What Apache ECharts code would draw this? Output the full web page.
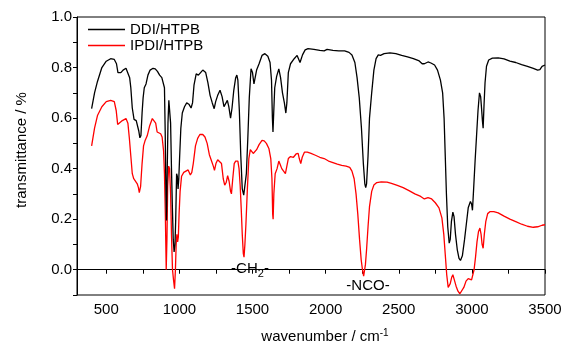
<!DOCTYPE html>
<html>
<head>
<meta charset="utf-8">
<script src="https://cdn.jsdelivr.net/npm/echarts@6/dist/echarts.min.js"></script>
<style>html,body{margin:0;padding:0;background:#fff}#c{width:571px;height:345px}</style>
</head>
<body>
<div id="c"></div>
<script>
var seriesNames = ['DDI/HTPB', 'IPDI/HTPB'];
var xTicks = [500, 750, 1000, 1250, 1500, 1750, 2000, 2250, 2500, 2750, 3000, 3250, 3500];
var xLabels = [500, 1000, 1500, 2000, 2500, 3000, 3500];
var yLabels = [0.0, 0.2, 0.4, 0.6, 0.8, 1.0];

var ddiData = [[400,0.637],[420,0.70],[440,0.745],[470,0.80],[500,0.825],[530,0.835],[555,0.832],[570,0.815],[580,0.78],[600,0.78],[615,0.79],[635,0.797],[648,0.795],[660,0.76],[668,0.72],[678,0.64],[690,0.595],[705,0.59],[715,0.585],[722,0.55],[730,0.522],[737,0.53],[745,0.62],[752,0.68],[760,0.72],[772,0.735],[785,0.77],[800,0.79],[820,0.797],[835,0.795],[850,0.785],[865,0.77],[880,0.76],[890,0.755],[898,0.72],[903,0.55],[908,0.30],[912,0.195],[917,0.40],[922,0.58],[928,0.67],[935,0.665],[940,0.58],[946,0.40],[952,0.25],[958,0.12],[964,0.07],[970,0.10],[975,0.20],[981,0.38],[986,0.37],[991,0.32],[996,0.36],[1002,0.45],[1010,0.56],[1020,0.62],[1035,0.645],[1050,0.66],[1065,0.655],[1080,0.64],[1090,0.66],[1100,0.73],[1115,0.775],[1130,0.77],[1145,0.78],[1160,0.79],[1180,0.78],[1195,0.74],[1210,0.69],[1225,0.66],[1238,0.637],[1248,0.665],[1262,0.69],[1278,0.71],[1292,0.685],[1305,0.645],[1315,0.64],[1328,0.67],[1338,0.645],[1350,0.60],[1360,0.64],[1372,0.71],[1385,0.76],[1393,0.77],[1400,0.75],[1410,0.63],[1420,0.45],[1430,0.32],[1440,0.295],[1450,0.29],[1458,0.38],[1468,0.52],[1478,0.68],[1490,0.795],[1500,0.78],[1510,0.735],[1518,0.735],[1528,0.79],[1545,0.815],[1565,0.848],[1585,0.855],[1605,0.845],[1620,0.82],[1630,0.75],[1636,0.60],[1640,0.545],[1645,0.62],[1652,0.72],[1665,0.765],[1680,0.795],[1692,0.76],[1705,0.70],[1718,0.66],[1728,0.62],[1735,0.66],[1745,0.78],[1760,0.815],[1785,0.835],[1805,0.848],[1818,0.845],[1825,0.82],[1832,0.815],[1842,0.85],[1860,0.87],[1880,0.875],[1920,0.872],[1960,0.868],[1990,0.866],[2010,0.872],[2050,0.868],[2090,0.866],[2130,0.866],[2160,0.86],[2180,0.85],[2200,0.82],[2215,0.76],[2230,0.68],[2245,0.56],[2258,0.42],[2268,0.34],[2274,0.325],[2280,0.34],[2290,0.45],[2300,0.60],[2315,0.70],[2330,0.79],[2345,0.835],[2360,0.85],[2375,0.848],[2400,0.855],[2440,0.858],[2480,0.855],[2520,0.848],[2560,0.842],[2600,0.835],[2640,0.826],[2660,0.815],[2675,0.815],[2700,0.822],[2720,0.818],[2745,0.81],[2765,0.79],[2785,0.75],[2800,0.70],[2810,0.60],[2818,0.45],[2826,0.30],[2835,0.17],[2845,0.105],[2852,0.12],[2860,0.19],[2870,0.228],[2878,0.21],[2888,0.14],[2900,0.08],[2912,0.045],[2922,0.037],[2935,0.055],[2950,0.12],[2962,0.18],[2975,0.245],[2990,0.27],[2998,0.26],[3004,0.235],[3012,0.32],[3022,0.43],[3032,0.53],[3042,0.63],[3052,0.70],[3060,0.685],[3066,0.64],[3072,0.59],[3077,0.56],[3083,0.65],[3090,0.74],[3100,0.805],[3115,0.83],[3140,0.837],[3180,0.838],[3220,0.834],[3260,0.825],[3300,0.82],[3340,0.812],[3380,0.805],[3420,0.797],[3450,0.79],[3465,0.792],[3480,0.805],[3500,0.81]];

var ipdiData = [[400,0.49],[420,0.56],[440,0.61],[470,0.645],[500,0.665],[530,0.67],[555,0.665],[568,0.63],[578,0.575],[590,0.58],[610,0.59],[635,0.598],[648,0.58],[658,0.52],[668,0.45],[678,0.38],[688,0.36],[700,0.355],[712,0.34],[720,0.325],[726,0.305],[735,0.33],[745,0.42],[755,0.49],[765,0.51],[780,0.53],[797,0.57],[815,0.598],[825,0.60],[838,0.58],[848,0.545],[860,0.54],[872,0.538],[882,0.525],[892,0.47],[898,0.38],[904,0.22],[910,0.0],[915,0.12],[920,0.33],[927,0.41],[933,0.40],[940,0.30],[946,0.14],[953,0.0],[960,-0.04],[967,-0.075],[973,0.0],[978,0.10],[983,0.14],[988,0.11],[993,0.13],[998,0.22],[1005,0.31],[1015,0.37],[1030,0.385],[1045,0.39],[1060,0.395],[1075,0.375],[1085,0.385],[1095,0.42],[1110,0.49],[1125,0.52],[1140,0.535],[1160,0.535],[1175,0.525],[1190,0.50],[1205,0.455],[1220,0.43],[1232,0.41],[1240,0.393],[1250,0.42],[1262,0.435],[1275,0.44],[1288,0.42],[1300,0.36],[1310,0.335],[1320,0.345],[1330,0.372],[1340,0.35],[1350,0.31],[1356,0.30],[1365,0.36],[1375,0.42],[1385,0.43],[1392,0.425],[1400,0.43],[1408,0.40],[1416,0.33],[1423,0.24],[1430,0.14],[1437,0.065],[1442,0.05],[1448,0.10],[1455,0.18],[1465,0.32],[1475,0.44],[1485,0.475],[1495,0.48],[1505,0.46],[1515,0.46],[1528,0.475],[1545,0.495],[1565,0.512],[1580,0.51],[1595,0.50],[1612,0.48],[1625,0.44],[1633,0.36],[1638,0.22],[1641,0.20],[1646,0.30],[1655,0.38],[1668,0.40],[1680,0.43],[1690,0.415],[1700,0.40],[1712,0.40],[1725,0.38],[1732,0.385],[1745,0.44],[1760,0.448],[1780,0.445],[1798,0.458],[1812,0.46],[1820,0.44],[1830,0.42],[1840,0.445],[1855,0.465],[1875,0.465],[1900,0.46],[1930,0.453],[1960,0.445],[1990,0.44],[2020,0.43],[2050,0.424],[2080,0.418],[2110,0.413],[2140,0.41],[2165,0.405],[2180,0.39],[2195,0.36],[2208,0.30],[2220,0.22],[2232,0.12],[2243,0.04],[2252,0.0],[2260,-0.025],[2266,-0.02],[2272,0.02],[2280,0.08],[2290,0.17],[2300,0.25],[2315,0.31],[2330,0.335],[2350,0.345],[2380,0.348],[2420,0.347],[2450,0.342],[2490,0.334],[2530,0.325],[2570,0.313],[2610,0.30],[2650,0.29],[2675,0.28],[2700,0.285],[2725,0.28],[2750,0.265],[2775,0.245],[2795,0.205],[2808,0.14],[2818,0.06],[2828,-0.02],[2838,-0.07],[2845,-0.07],[2852,-0.055],[2862,-0.03],[2870,-0.02],[2880,-0.04],[2892,-0.065],[2905,-0.085],[2918,-0.095],[2930,-0.09],[2945,-0.07],[2960,-0.045],[2975,-0.035],[2988,-0.032],[2998,-0.04],[3005,-0.035],[3015,0.0],[3025,0.05],[3035,0.11],[3045,0.15],[3055,0.165],[3063,0.14],[3070,0.10],[3077,0.085],[3085,0.14],[3095,0.19],[3108,0.222],[3125,0.23],[3150,0.23],[3180,0.225],[3220,0.212],[3260,0.2],[3300,0.19],[3340,0.18],[3380,0.172],[3420,0.168],[3450,0.17],[3480,0.176],[3500,0.178]];

var annotationCoords = [[1484, 0.0], [2293, -0.07]];
var annotationTexts = ['{m|-CH}{s|2}{m|-}', '{m|-NCO-}'];

var FONT = '"Liberation Sans", Arial, sans-serif';
var LINE_ICON = 'path://M0,0L40,0L40,1.4L0,1.4Z';
var chart = echarts.init(document.getElementById('c'), null, {renderer: 'canvas'});
chart.setOption({
  animation: false,
  backgroundColor: '#fff',
  grid: {left: 77, right: 26, top: 17, bottom: 50, outerBoundsMode: 'none', containLabel: false,
    show: true, borderColor: '#000', borderWidth: 1, backgroundColor: 'transparent'},
  legend: {
    data: seriesNames.map(function (n) { return {name: n, icon: LINE_ICON}; }),
    orient: 'vertical', left: 88, top: 22, padding: 0,
    itemWidth: 37, itemHeight: 1.4, itemGap: 1,
    textStyle: {fontFamily: FONT, fontSize: 15, color: '#000', padding: [2, 0, 0, 0]}
  },
  xAxis: {
    type: 'value', min: 300, max: 3500,
    name: '{m|wavenumber / cm}{p|-1}', nameLocation: 'middle', nameGap: 33,
    nameTextStyle: {padding: [0, 0, 0, 28], rich: {
      m: {fontFamily: FONT, fontSize: 15, color: '#000'},
      p: {fontFamily: FONT, fontSize: 10, color: '#000', padding: [0, 0, 8, 0]}
    }},
    axisLine: {show: true, lineStyle: {color: '#000', width: 1}},
    axisTick: {show: true, inside: false, length: 4, customValues: xTicks, lineStyle: {color: '#000'}},
    axisLabel: {customValues: xLabels, margin: 7, fontFamily: FONT, fontSize: 15, color: '#000',
      formatter: function (v) { return String(v); }},
    splitLine: {show: false}
  },
  yAxis: {
    type: 'value', min: -0.1, max: 1.0, interval: 0.1,
    name: 'transmittance / %', nameLocation: 'middle', nameGap: 48,
    nameTextStyle: {fontFamily: FONT, fontSize: 15, color: '#000', padding: [0, 0, 0, 12]},
    axisLine: {show: true, lineStyle: {color: '#000', width: 1}},
    axisTick: {show: true, inside: false, length: 4, lineStyle: {color: '#000'}},
    axisLabel: {customValues: yLabels, margin: 5, fontFamily: FONT, fontSize: 15, color: '#000',
      formatter: function (v) { return v.toFixed(1); }},
    splitLine: {show: false}
  },
  series: [
    {
      name: seriesNames[1], type: 'line', data: ipdiData, symbol: 'none', showSymbol: false,
      lineStyle: {color: '#ff0000', width: 1.3}, itemStyle: {color: '#ff0000'}, z: 2
    },
    {
      name: seriesNames[0], type: 'line', data: ddiData, symbol: 'none', showSymbol: false,
      lineStyle: {color: '#000000', width: 1.3}, itemStyle: {color: '#000000'}, z: 3
    }
  ]
});

var graphics = annotationCoords.map(function (c, i) {
  var p = chart.convertToPixel({gridIndex: 0}, c);
  return {
    type: 'text', x: Math.round(p[0]), y: Math.round(p[1]) - 1, z: 10,
    style: {
      text: annotationTexts[i], align: 'center', verticalAlign: 'middle',
      rich: {
        m: {fontFamily: FONT, fontSize: 15, fill: '#000', lineHeight: 16},
        s: {fontFamily: FONT, fontSize: 11, fill: '#000', lineHeight: 16, padding: [9, 0, 0, 0]}
      }
    }
  };
});
chart.setOption({graphic: graphics});
</script>
</body>
</html>
